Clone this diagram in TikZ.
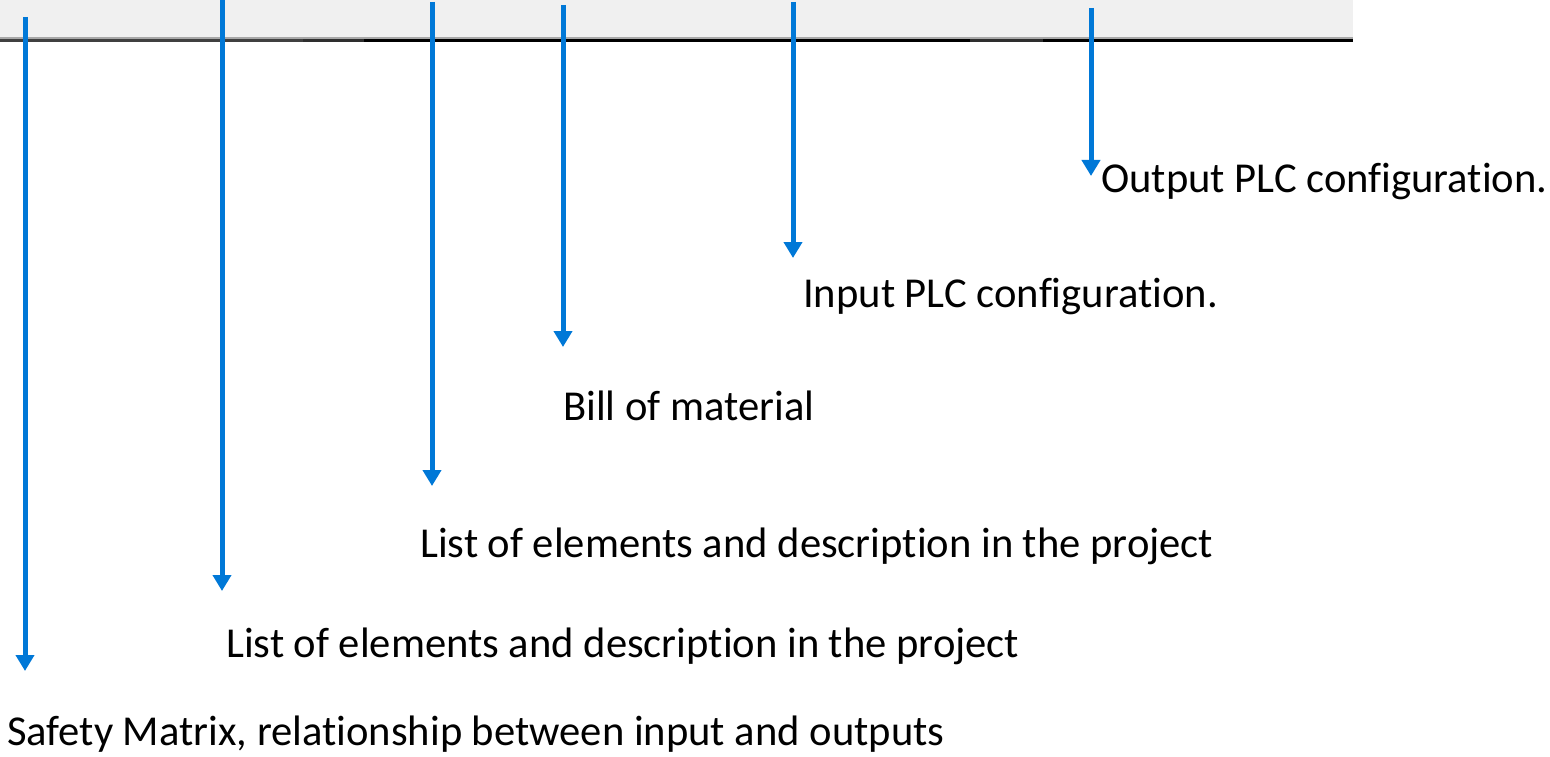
\documentclass[tikz,border=0pt]{standalone}
\usepackage{fontspec}
\setmainfont[Ligatures=NoCommon]{Carlito}
\usetikzlibrary{arrows.meta}
\definecolor{arrowblue}{HTML}{0078D7}
\definecolor{barfill}{HTML}{F0F0F0}
\definecolor{barline}{HTML}{A8A8A8}
\definecolor{darkseg}{HTML}{404040}
\definecolor{darkerseg}{HTML}{2E2E2E}
\tikzset{
  flowarrow/.style={draw=arrowblue, line width=5pt, -{Triangle[width=18pt,length=16pt]}, arrowblue},
  lbl/.style={anchor=base west, inner sep=0pt, font=\fontsize{42.6}{50}\selectfont, text=black},
}
\begin{document}
\begin{tikzpicture}[x=1pt,y=-1pt]
\useasboundingbox (0,0) rectangle (1550,757);
% toolbar-like bar
\fill[barfill] (0,0) rectangle (1353,38);
\fill[barline] (0,37.5) rectangle (1353,39);
\fill[darkseg] (0,39) rectangle (303,42.5);
\fill[darkerseg] (303,39) rectangle (364,42.5);
\fill[black] (364,39) rectangle (970,42.5);
\fill[darkerseg] (970,39) rectangle (1043,42.5);
\fill[black] (1043,39) rectangle (1353,42.5);
% coordinates
\coordinate (s1) at (25,17);   \coordinate (e1) at (25,671);
\coordinate (s2) at (222,0);   \coordinate (e2) at (222,591);
\coordinate (s3) at (432,2);   \coordinate (e3) at (432,486);
\coordinate (s4) at (563,5);   \coordinate (e4) at (563,347);
\coordinate (s5) at (793,2);   \coordinate (e5) at (793,258);
\coordinate (s6) at (1091,8);  \coordinate (e6) at (1091,176);
% arrows
\draw[flowarrow] (s1) -- (e1);
\draw[flowarrow] (s2) -- (e2);
\draw[flowarrow] (s3) -- (e3);
\draw[flowarrow] (s4) -- (e4);
\draw[flowarrow] (s5) -- (e5);
\draw[flowarrow] (s6) -- (e6);
% labels
\node[lbl] (t6) at (1101,193) {Output PLC configuration.};
\node[lbl] (t5) at (803,307) {Input PLC configuration.};
\node[lbl] (t4) at (563,420) {Bill of material};
\node[lbl] (t3) at (420,557) {List of elements and description in the project};
\node[lbl] (t2) at (226,657) {List of elements and description in the project};
\node[lbl] (t1) at (7,745) {Safety Matrix, relationship between input and outputs};
\end{tikzpicture}
\end{document}
